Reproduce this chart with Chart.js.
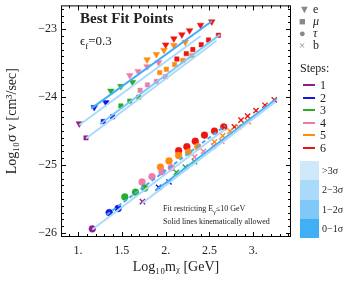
<!DOCTYPE html>
<html>
<head>
<meta charset="utf-8">
<script src="https://cdn.jsdelivr.net/npm/chart.js@4"></script>
<style>
  body { margin: 0; background: #fff; }
  #wrap { position: relative; width: 350px; height: 288px; font-family: "Liberation Serif", serif; color: #222; }
  canvas { position: absolute; left: 0; top: 0; }
  .t { position: absolute; white-space: nowrap; line-height: 1; }
  .sw { position: absolute; left: 303px; width: 12px; height: 2px; }
  .box { position: absolute; left: 300px; width: 19px; height: 19.5px; }
</style>
</head>
<body>
<div id="wrap">
  <canvas id="c" width="350" height="288"></canvas>
  <div class="t" style="left:80px;top:11px;font-size:15px;font-weight:bold;">Best Fit Points</div>
  <div class="t" style="left:80px;top:34px;font-size:13px;">&#1013;<sub style="font-size:9px">f</sub>=0.3</div>
  <div class="t" style="left:163px;top:205px;font-size:8px;">Fit restricting E<sub style="font-size:6px">&gamma;</sub>&le;10 GeV</div>
  <div class="t" style="left:163px;top:218px;font-size:8px;">Solid lines kinematically allowed</div>
  <div id="legend"></div>
</div>
<script>
// step number of each best fit point (same for every channel)
const stepOf = [1, 2, 2, 3, 3, 3, 4, 4, 4, 4, 5, 5, 5, 5, 5, 6, 6, 6, 6, 6, 6];

// log10 m_chi and log10 sigma v for each channel
const eMass = [1.015, 1.185, 1.318, 1.375, 1.489, 1.622, 1.591, 1.685, 1.788, 1.920, 1.788, 1.894, 1.981, 2.094, 2.224, 2.000, 2.094, 2.185, 2.273, 2.398, 2.526];
const eSigv = [-24.39, -24.15, -24.08, -23.91, -23.84, -23.78, -23.68, -23.62, -23.55, -23.49, -23.45, -23.37, -23.31, -23.24, -23.19, -23.23, -23.14, -23.08, -23.02, -22.94, -22.89];
const muMass = [1.091, 1.288, 1.394, 1.489, 1.591, 1.693, 1.708, 1.792, 1.894, 1.997, 1.932, 2.008, 2.102, 2.197, 2.299, 2.128, 2.235, 2.310, 2.406, 2.489, 2.602];
const muSigv = [-24.60, -24.36, -24.29, -24.13, -24.06, -24.00, -23.90, -23.82, -23.77, -23.70, -23.64, -23.59, -23.52, -23.46, -23.39, -23.44, -23.36, -23.30, -23.23, -23.16, -23.09];
const tauMass = [1.163, 1.356, 1.458, 1.534, 1.656, 1.761, 1.731, 1.844, 1.958, 2.065, 1.940, 2.038, 2.148, 2.261, 2.367, 2.148, 2.242, 2.338, 2.443, 2.557, 2.663];
const tauSigv = [-25.94, -25.70, -25.64, -25.47, -25.40, -25.34, -25.25, -25.17, -25.10, -25.04, -25.03, -24.94, -24.86, -24.81, -24.73, -24.79, -24.73, -24.65, -24.56, -24.50, -24.44];
const bMass = [1.735, 1.920, 2.038, 2.122, 2.224, 2.330, 2.330, 2.432, 2.545, 2.640, 2.557, 2.651, 2.735, 2.830, 2.943, 2.784, 2.860, 2.935, 3.031, 3.133, 3.239];
const bSigv = [-25.54, -25.33, -25.25, -25.11, -25.03, -24.95, -24.88, -24.80, -24.72, -24.65, -24.66, -24.57, -24.50, -24.44, -24.36, -24.44, -24.34, -24.28, -24.20, -24.12, -24.04];

// fit lines: [x0, x1], [y0, y1] per channel, light (>3 sigma) then darker
const eLightX = [1.015, 2.40], eLightY = [-24.41, -23.10];
const eDarkX = [1.15, 2.53], eDarkY = [-24.17, -22.88];
const muLightX = [1.091, 2.58], muLightY = [-24.61, -23.17];
const muDarkX = [1.25, 2.62], muDarkY = [-24.40, -23.08];
const tauLightX = [1.163, 2.68], tauLightY = [-25.95, -24.47];
const tauDarkX = [1.33, 2.68], tauDarkY = [-25.73, -24.42];
const bLightX = [1.735, 3.25], bLightY = [-25.56, -24.07];
const bDarkX = [1.88, 3.27], bDarkY = [-25.38, -24.02];

const stepColors = ['#8e1d8e', '#1414e6', '#27ad27', '#f27aa8', '#ff8a12', '#ee1414'];
const stepNames = ['1', '2', '3', '4', '5', '6'];
const sigmaNames = ['>3\u03c3', '2\u22123\u03c3', '1\u22122\u03c3', '0\u22121\u03c3'];
const sigmaColors = ['#cfe9fb', '#a9dafa', '#7fc9f8', '#41aff5'];
const xTicks = [1, 1.5, 2, 2.5, 3];
const yTicks = [-26, -25, -24, -23];

const channels = [
  { x: eMass, y: eSigv, style: 'triangle', rot: 180, r: 3.8 },
  { x: muMass, y: muSigv, style: 'rect', rot: 0, r: 3.1 },
  { x: tauMass, y: tauSigv, style: 'circle', rot: 0, r: 3.4 },
  { x: bMass, y: bSigv, style: 'crossRot', rot: 0, r: 3.7 }
];
const fitLines = [
  [eLightX, eLightY, sigmaColors[1], []], [eDarkX, eDarkY, sigmaColors[3], []],
  [muLightX, muLightY, sigmaColors[1], []], [muDarkX, muDarkY, sigmaColors[2], []],
  [tauLightX, tauLightY, sigmaColors[1], []], [tauDarkX, tauDarkY, sigmaColors[3], [4, 3]],
  [bLightX, bLightY, sigmaColors[1], []], [bDarkX, bDarkY, sigmaColors[3], []]
];

const datasets = [];
fitLines.forEach(([xs, ys, col, dash]) => {
  datasets.push({
    type: 'line', data: xs.map((v, i) => ({ x: v, y: ys[i] })),
    borderColor: col, borderWidth: 2, borderDash: dash, pointRadius: 0, showLine: true
  });
});
channels.forEach(ch => {
  for (let s = 1; s <= 6; s++) {
    const pts = [];
    ch.x.forEach((v, i) => { if (stepOf[i] === s) pts.push({ x: v, y: ch.y[i] }); });
    const col = stepColors[s - 1];
    datasets.push({
      data: pts, pointStyle: ch.style, rotation: ch.rot, pointRadius: ch.r,
      backgroundColor: col, borderColor: col, borderWidth: ch.style === 'crossRot' ? 1.4 : 0.5
    });
  }
});

// inward frame ticks on all four sides, Mathematica style
const frameTicks = {
  id: 'frameTicks',
  afterDraw(chart) {
    const { ctx, chartArea: a, scales: { x, y } } = chart;
    ctx.save();
    ctx.strokeStyle = '#000';
    ctx.lineWidth = 1;
    ctx.strokeRect(a.left + 0.5, a.top + 0.5, a.right - a.left - 1, a.bottom - a.top - 1);
    ctx.beginPath();
    for (let k = 8; k <= 34; k++) {
      const v = k / 10;
      const px = Math.round(x.getPixelForValue(v)) + 0.5;
      if (px < a.left || px > a.right) continue;
      const len = k % 5 === 0 ? 5 : 3;
      ctx.moveTo(px, a.bottom); ctx.lineTo(px, a.bottom - len);
      ctx.moveTo(px, a.top); ctx.lineTo(px, a.top + len);
    }
    for (let k = -261; k <= -226; k++) {
      const v = k / 10;
      const py = Math.round(y.getPixelForValue(v)) + 0.5;
      if (py < a.top || py > a.bottom) continue;
      const len = k % 10 === 0 ? 5 : 3;
      ctx.moveTo(a.left, py); ctx.lineTo(a.left + len, py);
      ctx.moveTo(a.right, py); ctx.lineTo(a.right - len, py);
    }
    ctx.stroke();
    ctx.restore();
  }
};

const serif = { family: 'Liberation Serif', size: 12 };

new Chart(document.getElementById('c'), {
  type: 'scatter',
  data: { datasets: datasets },
  options: {
    responsive: false,
    animation: false,
    layout: { padding: { left: 0, right: 59, top: 4, bottom: 8 } },
    plugins: { legend: { display: false }, tooltip: { enabled: false } },
    scales: {
      x: {
        min: 0.806, max: 3.43,
        afterBuildTicks: s => { s.ticks = xTicks.map(v => ({ value: v })); },
        afterFit: s => { s.height = 43; s.paddingLeft = 0; s.paddingRight = 0; },
        grid: { display: false, drawTicks: false },
        border: { display: false },
        ticks: {
          color: '#222', font: serif, padding: 7, maxRotation: 0,
          callback: v => (Number.isInteger(v) ? v + '.' : String(v))
        },
        title: { display: true, text: 'Log\u2081\u2080m\u1d6a [GeV]', color: '#222', font: { family: 'Liberation Serif', size: 14 }, padding: { top: 4 } }
      },
      y: {
        min: -26.06, max: -22.65,
        afterBuildTicks: s => { s.ticks = yTicks.map(v => ({ value: v })); },
        afterFit: s => { s.width = 61; s.paddingTop = 0; s.paddingBottom = 0; },
        grid: { display: false, drawTicks: false },
        border: { display: false },
        ticks: {
          color: '#222', font: serif, padding: 4,
          callback: v => '\u2212' + Math.abs(v)
        },
        title: { display: true, text: 'Log\u2081\u2080\u03c3 v [cm\u00b3/sec]', color: '#222', font: { family: 'Liberation Serif', size: 14 }, padding: { bottom: 2 } }
      }
    }
  },
  plugins: [frameTicks]
});

// legend on the right
const lg = document.getElementById('legend');
const marks = [['\u25bc', 'e', 10, 'normal'], ['\u25a0', '\u03bc', 22, 'italic'], ['\u25cf', '\u03c4', 34, 'italic'], ['\u00d7', 'b', 46, 'normal']];
let html = '';
marks.forEach(([m, n, yc, st]) => {
  html += `<div class="t" style="left:299px;top:${yc - 6}px;font-size:11px;color:#888">${m}</div>`;
  html += `<div class="t" style="left:313px;top:${yc - 7}px;font-size:12px;font-style:${st}">${n}</div>`;
});
html += '<div class="t" style="left:300px;top:62px;font-size:12px">Steps:</div>';
stepNames.forEach((n, i) => {
  const yc = 85 + i * 12.6;
  html += `<div class="sw" style="top:${yc - 1}px;background:${stepColors[i]}"></div>`;
  html += `<div class="t" style="left:320px;top:${yc - 6}px;font-size:12px">${n}</div>`;
});
sigmaNames.forEach((n, i) => {
  const top = 161 + i * 19.3;
  html += `<div class="box" style="top:${top}px;background:${sigmaColors[i]}"></div>`;
  html += `<div class="t" style="left:322px;top:${top + 5}px;font-size:10px">${n}</div>`;
});
lg.innerHTML = html;
</script>
</body>
</html>
